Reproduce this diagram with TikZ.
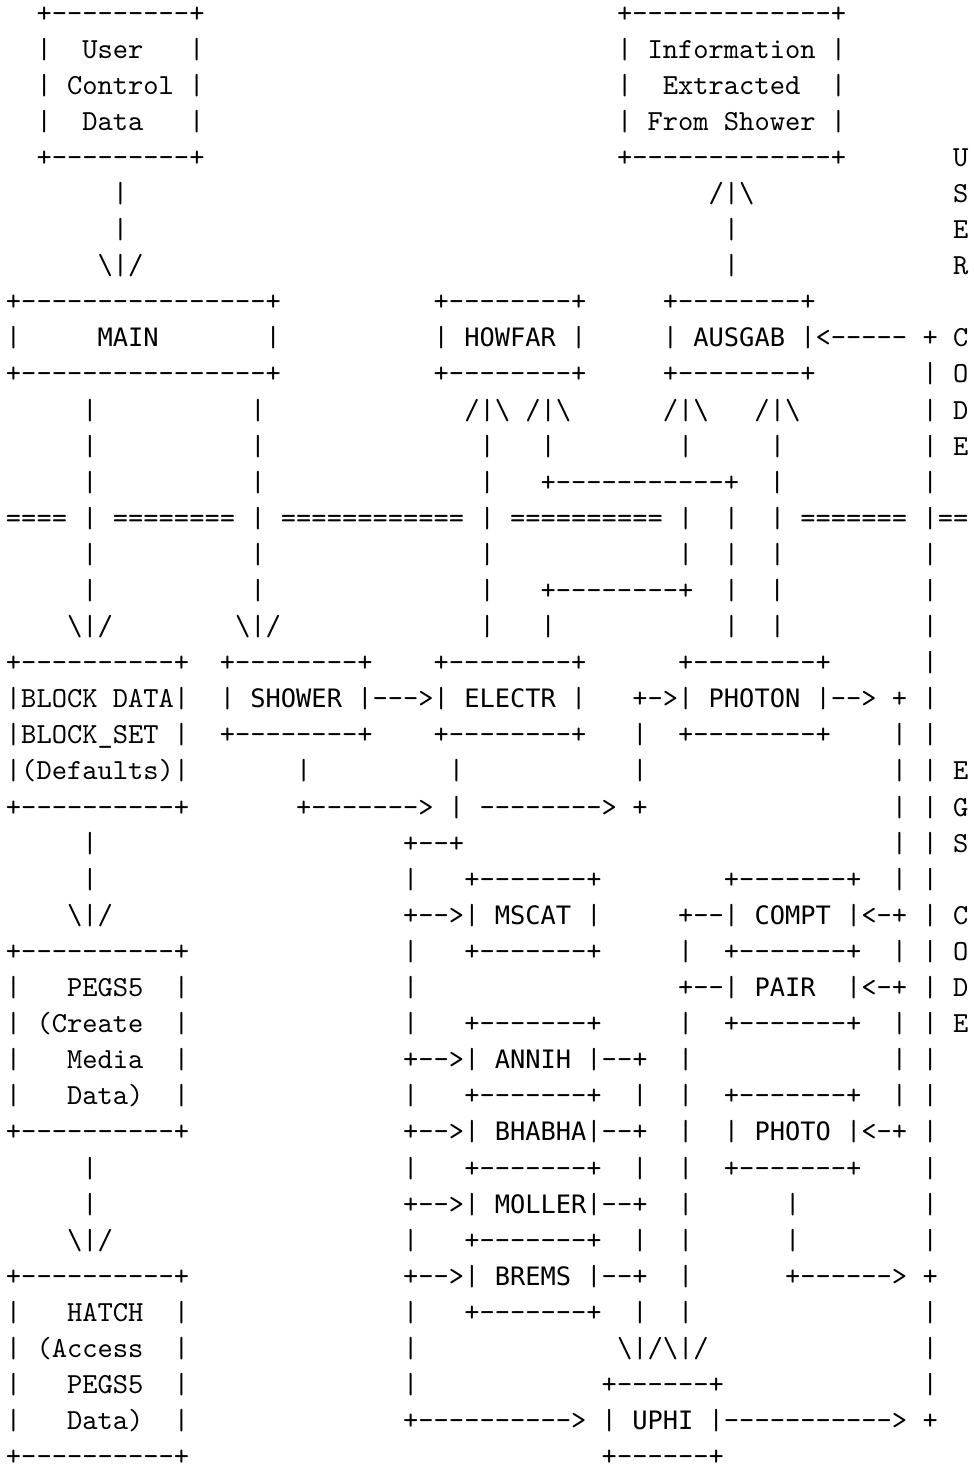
\documentclass[tikz,border=0pt]{standalone}
\usepackage{fontspec}
\usepackage{tikz}

% routine names are set in a sans mono, squeezed to the grid width
\newfontfamily\routinefont{DejaVu Sans Mono}[Scale=0.87202]
\newcommand\rtn[1]{{\routinefont #1}}
% blank columns of the monospaced grid
\newcommand\skipc[1]{\hspace*{#1\fontcharwd\font`\x}}

\begin{document}
\begin{tikzpicture}[
x=5.25pt, y={(0pt,-12.404pt)},
ascii/.style={anchor=base west, inner sep=0pt, outer sep=0pt, font=\ttfamily}
]
\fill[white] (0,0) rectangle (63.75,40.70);
\useasboundingbox (0,0) rectangle (63.75,40.70);

% user boxes
\node[ascii] (row01) at (0.39,0.61) {\skipc{2}+---------+\skipc{27}+-------------+};
\node[ascii] (row02) at (0.39,1.61) {\skipc{2}|~~User~~~|\skipc{27}|~Information~|};
\node[ascii] (row03) at (0.39,2.61) {\skipc{2}|~Control~|\skipc{27}|~~Extracted~~|};
\node[ascii] (row04) at (0.39,3.61) {\skipc{2}|~~Data~~~|\skipc{27}|~From~Shower~|};
\node[ascii] (row05) at (0.39,4.61) {\skipc{2}+---------+\skipc{27}+-------------+\skipc{7}U};
\node[ascii] (row06) at (0.39,5.61) {\skipc{7}|\skipc{38}/|\textbackslash\skipc{13}S};
\node[ascii] (row07) at (0.39,6.61) {\skipc{7}|\skipc{39}|\skipc{14}E};
\node[ascii] (row08) at (0.39,7.61) {\skipc{6}\textbackslash|/\skipc{38}|\skipc{14}R};

% MAIN, HOWFAR, AUSGAB
\node[ascii] (row09) at (0.39,8.61) {+----------------+\skipc{10}+--------+\skipc{5}+--------+};
\node[ascii] (row10) at (0.39,9.61) {|\skipc{5}\rtn{MAIN}\skipc{7}|\skipc{10}|~\rtn{HOWFAR}~|\skipc{5}|~\rtn{AUSGAB}~|<-----~+~C};
\node[ascii] (row11) at (0.39,10.61) {+----------------+\skipc{10}+--------+\skipc{5}+--------+\skipc{7}|~O};
\node[ascii] (row12) at (0.39,11.61) {\skipc{5}|\skipc{10}|\skipc{13}/|\textbackslash~/|\textbackslash\skipc{6}/|\textbackslash\skipc{3}/|\textbackslash\skipc{8}|~D};
\node[ascii] (row13) at (0.39,12.61) {\skipc{5}|\skipc{10}|\skipc{14}|\skipc{3}|\skipc{8}|\skipc{5}|\skipc{9}|~E};
\node[ascii] (row14) at (0.39,13.61) {\skipc{5}|\skipc{10}|\skipc{14}|\skipc{3}+-----------+\skipc{2}|\skipc{9}|};
\node[ascii] (row15) at (0.39,14.61) {====~|~========~|~============~|~==========~|~~|~~|~=======~|==};
\node[ascii] (row16) at (0.39,15.61) {\skipc{5}|\skipc{10}|\skipc{14}|\skipc{12}|\skipc{2}|\skipc{2}|\skipc{9}|};
\node[ascii] (row17) at (0.39,16.61) {\skipc{5}|\skipc{10}|\skipc{14}|\skipc{3}+--------+\skipc{2}|\skipc{2}|\skipc{9}|};
\node[ascii] (row18) at (0.39,17.61) {\skipc{4}\textbackslash|/\skipc{8}\textbackslash|/\skipc{13}|\skipc{3}|\skipc{11}|\skipc{2}|\skipc{9}|};

% BLOCK DATA, SHOWER, ELECTR, PHOTON
\node[ascii] (row19) at (0.39,18.61) {+----------+\skipc{2}+--------+\skipc{4}+--------+\skipc{6}+--------+\skipc{6}|};
\node[ascii] (row20) at (0.39,19.61) {|BLOCK~DATA|~~|~\rtn{SHOWER}~|--->|~\rtn{ELECTR}~|~~~+->|~\rtn{PHOTON}~|-->~+~|};
\node[ascii] (row21) at (0.39,20.61) {|BLOCK\_SET~|~~+--------+\skipc{4}+--------+~~~|~~+--------+\skipc{4}|~|};
\node[ascii] (row22) at (0.39,21.61) {|(Defaults)|\skipc{7}|\skipc{9}|\skipc{11}|\skipc{16}|~|~E};
\node[ascii] (row23) at (0.39,22.61) {+----------+\skipc{7}+------->~|~-------->~+\skipc{16}|~|~G};
\node[ascii] (row24) at (0.39,23.61) {\skipc{5}|\skipc{20}+--+\skipc{28}|~|~S};

% PEGS5, MSCAT, COMPT, PAIR ...
\node[ascii] (row25) at (0.39,24.61) {\skipc{5}|\skipc{20}|~~~+-------+\skipc{8}+-------+~~|~|};
\node[ascii] (row26) at (0.39,25.61) {\skipc{4}\textbackslash|/\skipc{19}+-->|~\rtn{MSCAT}~|\skipc{5}+--|~\rtn{COMPT}~|<-+~|~C};
\node[ascii] (row27) at (0.39,26.61) {+----------+\skipc{14}|~~~+-------+\skipc{5}|~~+-------+~~|~|~O};
\node[ascii] (row28) at (0.39,27.61) {|~~~PEGS5~~|\skipc{14}|\skipc{17}+--|~\rtn{PAIR}~~|<-+~|~D};
\node[ascii] (row29) at (0.39,28.61) {|~(Create~~|\skipc{14}|~~~+-------+\skipc{5}|~~+-------+~~|~|~E};
\node[ascii] (row30) at (0.39,29.61) {|~~~Media~~|\skipc{14}+-->|~\rtn{ANNIH}~|--+~~|\skipc{13}|~|};
\node[ascii] (row31) at (0.39,30.61) {|~~~Data)~~|\skipc{14}|~~~+-------+~~|~~|~~+-------+~~|~|};
\node[ascii] (row32) at (0.39,31.61) {+----------+\skipc{14}+-->|~\rtn{BHABHA}|--+~~|~~|~\rtn{PHOTO}~|<-+~|};
\node[ascii] (row33) at (0.39,32.61) {\skipc{5}|\skipc{20}|~~~+-------+~~|~~|~~+-------+\skipc{4}|};
\node[ascii] (row34) at (0.39,33.61) {\skipc{5}|\skipc{20}+-->|~\rtn{MOLLER}|--+~~|\skipc{6}|\skipc{8}|};
\node[ascii] (row35) at (0.39,34.61) {\skipc{4}\textbackslash|/\skipc{19}|~~~+-------+~~|~~|\skipc{6}|\skipc{8}|};

% HATCH, BREMS, UPHI
\node[ascii] (row36) at (0.39,35.61) {+----------+\skipc{14}+-->|~\rtn{BREMS}~|--+~~|\skipc{6}+------>~+};
\node[ascii] (row37) at (0.39,36.61) {|~~~HATCH~~|\skipc{14}|~~~+-------+~~|~~|\skipc{15}|};
\node[ascii] (row38) at (0.39,37.61) {|~(Access~~|\skipc{14}|\skipc{13}\textbackslash|/\textbackslash|/\skipc{14}|};
\node[ascii] (row39) at (0.39,38.61) {|~~~PEGS5~~|\skipc{14}|\skipc{12}+------+\skipc{13}|};
\node[ascii] (row40) at (0.39,39.61) {|~~~Data)~~|\skipc{14}+---------->~|~\rtn{UPHI}~|----------->~+};
\node[ascii] (row41) at (0.39,40.61) {+----------+\skipc{27}+------+};
\end{tikzpicture}
\end{document}
